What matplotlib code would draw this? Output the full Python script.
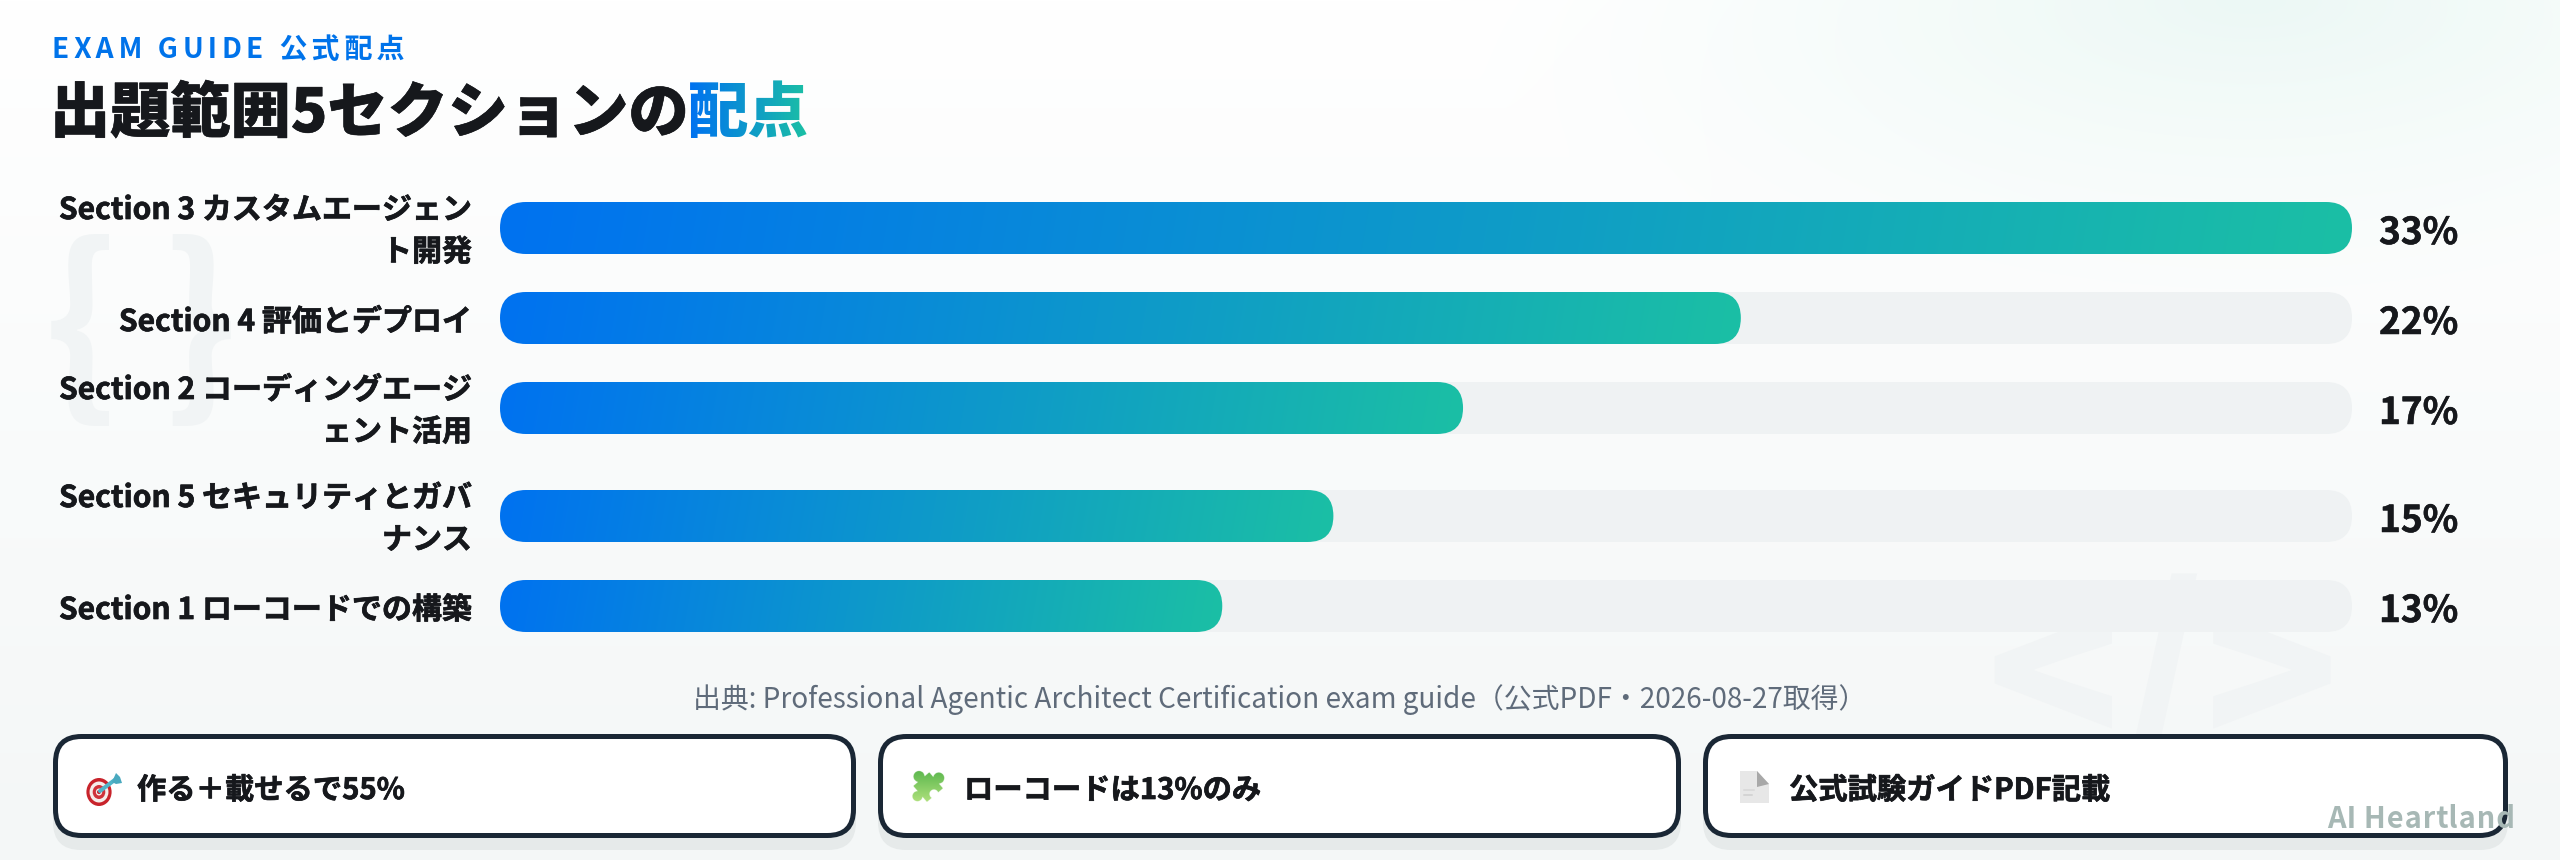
import numpy as np
import matplotlib
matplotlib.use("Agg")
import matplotlib.pyplot as plt
import matplotlib.patheffects as pe
from matplotlib.patches import FancyBboxPatch, Circle, Ellipse, Polygon
from matplotlib.colors import to_rgb
from matplotlib.font_manager import FontProperties

# ---------- data ----------
section_labels = ["Section 3 カスタムエージェン\nト開発", "Section 4 評価とデプロイ",
                  "Section 2 コーディングエージ\nェント活用", "Section 5 セキュリティとガバ\nナンス",
                  "Section 1 ローコードでの構築"]
section_values = [33, 22, 17, 15, 13]
bar_fill_percent = [100, 67, 52, 45, 39]
eyebrow_text = "EXAM GUIDE 公式配点"
title_dark = "出題範囲5セクションの"
title_accent = "配点"
source_text = "出典: Professional Agentic Architect Certification exam guide（公式PDF・2026-08-27取得）"
card_texts = ["作る＋載せるで55%", "ローコードは13%のみ", "公式試験ガイドPDF記載"]
watermark_text = "AI Heartland"

W, H = 2560, 860
FONT = ["Noto Sans CJK JP", "DejaVu Sans"]
plt.rcParams["font.family"] = FONT
px = 72 / 100  # font px -> pt at dpi 100
BLUE, TEAL = np.array(to_rgb("#0072F0")), np.array(to_rgb("#1BBFA5"))
INK = "#16181c"

fig = plt.figure(figsize=(W / 100, H / 100), dpi=100)


def pixel_axes(zorder):
    a = fig.add_axes([0, 0, 1, 1], zorder=zorder)
    a.set_xlim(0, W)
    a.set_ylim(H, 0)
    a.axis("off")
    return a


def thick(t, lw=0.7, color=INK):
    t.set_path_effects([pe.withStroke(linewidth=lw * px, foreground=color)])
    return t


# ---------- background ----------
bg = pixel_axes(0)
yy, xx = np.mgrid[0:H:2, 0:W:2]
base = np.ones((*yy.shape, 3))
v = (yy / H)[..., None]
base = base * (1 - v) + np.array(to_rgb("#F4F7F7")) * v
d = np.sqrt(((xx - 2250) / 800.0) ** 2 + (yy / 300.0) ** 2)
a = np.clip(1 - d, 0, 1)[..., None] ** 1.2
base = base * (1 - a) + np.array(to_rgb("#ECF8F5")) * a
bg.imshow(base, extent=(0, W, H, 0), aspect="auto", zorder=0, interpolation="bilinear")
bg.set_xlim(0, W)
bg.set_ylim(H, 0)
ghost = "#F1F4F5"
bg.text(141, 335, "{ }", fontsize=197 * px, fontweight="bold", color=ghost, ha="center", va="center", zorder=1)
bg.text(2162, 688, "</>", fontsize=221 * px, fontweight="black", color=ghost, ha="center", va="center", zorder=1)

# ---------- bars ----------
bar_h, row_gap = 52, 20
row_heights = [88 if "\n" in s else bar_h for s in section_labels]
centers, cur = [], 184
for rh in row_heights:
    centers.append(cur + rh / 2)
    cur += rh + row_gap

ax = fig.add_axes([500 / W, 0, 1852 / W, 1], zorder=1)
ax.set_xlim(0, 100)
ax.set_ylim(H, 0)
ax.axis("off")
px_per_unit = 1852 / 100
rad = bar_h / 2
r_x = rad / px_per_unit


def pill(value, yc, **kw):
    return FancyBboxPatch((0, yc - bar_h / 2), value, bar_h,
                          boxstyle=f"round,pad=0,rounding_size={r_x}",
                          mutation_aspect=px_per_unit, linewidth=0, **kw)


for yc, val in zip(centers, bar_fill_percent):
    ax.add_patch(pill(100, yc, facecolor="#EFF2F3", zorder=1))
    clip = pill(val, yc, facecolor="none", zorder=2)
    ax.add_patch(clip)
    xs = np.linspace(0, 1, 400)[None, :]
    ys = np.linspace(-1, 1, 26)[:, None]
    width_px = val * px_per_unit
    t = np.clip(xs + ys * 26 * 0.17 / width_px, 0, 1)[..., None]
    im = ax.imshow(BLUE * (1 - t) + TEAL * t, extent=(0, val, yc + bar_h / 2, yc - bar_h / 2),
                   aspect="auto", zorder=2, interpolation="bilinear")
    im.set_clip_path(clip)
ax.set_xlim(0, 100)
ax.set_ylim(H, 0)

# ---------- overlay ----------
ov = pixel_axes(2)
renderer = fig.canvas.get_renderer()


def spaced(text, size_px, weight, gap):
    """agg filter giving one text object CSS-like letter spacing."""
    fp = FontProperties(family=FONT, size=size_px * px, weight=weight)
    cuts = [renderer.get_text_width_height_descent(text[:i], fp, False)[0] for i in range(1, len(text))]

    def f(img, dpi):
        n = len(cuts)
        ink = img[..., 3].sum(axis=0)
        out = np.zeros((img.shape[0], img.shape[1] + int(gap * n) + 2, 4))
        edges = [0]
        for c in cuts:
            c = int(round(c))
            lo, hi = max(c - 4, 1), min(c + 3, img.shape[1] - 1)
            edges.append(lo + int(np.argmin(ink[lo:hi])) if hi > lo else c)
        edges.append(img.shape[1])
        for k in range(n + 1):
            l, r = edges[k], edges[k + 1]
            sh = int(round(k * gap))
            out[:, l + sh:r + sh] = img[:, l:r]
        return out, 0, 0
    return f


def gradient_text(img, dpi):
    out = img.copy()
    t = np.linspace(0, 1, img.shape[1])[None, :, None]
    out[..., :3] = BLUE * (1 - t) + TEAL * t
    return out, 0, 0


# header
e = ov.text(52, 58, eyebrow_text, fontsize=28 * px, fontweight="bold", color="#0073EA", ha="left", va="baseline")
e.set_agg_filter(spaced(eyebrow_text, 28, "bold", 4.6))
thick(ov.text(50, 132, title_dark, fontsize=60.2 * px, fontweight="black", color=INK, ha="left", va="baseline"), 0.6)
g = ov.text(688, 132, title_accent, fontsize=60.5 * px, fontweight="black", color=BLUE, ha="left", va="baseline")
g.set_agg_filter(gradient_text)

# row labels and values
for yc, lab, val in zip(centers, section_labels, section_values):
    thick(ov.text(472, yc + (3 if "\n" in lab else 4), lab, fontsize=30 * px, fontweight="bold", color=INK, ha="right",
                  va="center", multialignment="right", linespacing=1.5))
    thick(ov.text(2379, yc + 16, f"{val}%", fontsize=37 * px, fontweight="bold", color=INK, ha="left", va="baseline"), 0.5)

# source
ov.text(1280, 708, source_text, fontsize=27.9 * px, color="#5F6B7A", ha="center", va="baseline")

# cards
card_boxes = [(53, 856), (878, 1681), (1703, 2508)]
card_text_x = [137, 964, 1789]
for (x0, x1), tx, s in zip(card_boxes, card_text_x, card_texts):
    ov.add_patch(FancyBboxPatch((x0, 746), x1 - x0, 104, boxstyle="round,pad=0,rounding_size=28",
                                facecolor="#E6EAEA", linewidth=0, zorder=1))
    ov.add_patch(FancyBboxPatch((x0 + 2.5, 736.5), x1 - x0 - 5, 99, boxstyle="round,pad=0,rounding_size=26",
                                facecolor="white", edgecolor="#1A2735", linewidth=5 * px, zorder=2))
    thick(ov.text(tx, 799, s, fontsize=29.3 * px, fontweight="bold", color=INK, ha="left", va="baseline", zorder=3))

# emoji: dart
for r, c in zip([14, 10.5, 7, 3.5], ["#C8232B", "#F5EDEA", "#D0323A", "#F5EDEA"]):
    ov.add_patch(Ellipse((99, 792), 2 * r * 0.9, 2 * r, facecolor=c, linewidth=0, zorder=3))
ov.add_patch(Circle((99, 792), 2, facecolor="#C8232B", linewidth=0, zorder=3))
ov.plot([100, 116], [791, 779], color="#4FB4C9", lw=4 * px, solid_capstyle="round", zorder=4)
ov.add_patch(Polygon([[112, 782], [116, 773], [120, 777], [122, 783], [116, 784]], facecolor="#49A9BF", linewidth=0, zorder=4))

# emoji: puzzle piece (masked gradient sprite)
S = 4
size = 48
cx, cy = 928, 787
gy, gx = np.mgrid[0:size * S, 0:size * S] / S - size / 2
uu = (gx * 0.76 - gy * 0.65)
ww = (gx * 0.65 + gy * 0.76)
mask = (np.abs(uu) < 10.5) & (np.abs(ww) < 10.5)
mask |= (uu - 14) ** 2 + ww ** 2 < 5.5 ** 2
mask |= (uu + 14) ** 2 + ww ** 2 < 5.0 ** 2
mask |= uu ** 2 + (ww + 14) ** 2 < 5.5 ** 2
mask &= ~(uu ** 2 + (ww - 9) ** 2 < 4.5 ** 2)
tt = np.clip((gy + 16) / 32, 0, 1)[..., None]
sprite = np.zeros((*mask.shape, 4))
sprite[..., :3] = np.array(to_rgb("#5DB84E")) * (1 - tt) + np.array(to_rgb("#B2E27E")) * tt
sprite[..., 3] = mask
ov.imshow(sprite, extent=(cx - size / 2, cx + size / 2, cy + size / 2, cy - size / 2), aspect="auto",
          zorder=3, interpolation="antialiased")
ov.set_xlim(0, W)
ov.set_ylim(H, 0)

# emoji: page
ov.add_patch(Polygon([[1740, 771], [1757, 771], [1769, 784], [1769, 803], [1740, 803]], facecolor="#E7E7E7", linewidth=0, zorder=3))
ov.add_patch(Polygon([[1757, 771], [1769, 784], [1757, 787]], facecolor="#A8A8A8", linewidth=0, zorder=3))
ov.plot([1744, 1752], [795, 795], color="#CFCFCF", lw=1.5 * px, zorder=4)
ov.plot([1744, 1754], [790, 790], color="#D6D6D6", lw=1.5 * px, zorder=4)

# watermark
wm = ov.text(2327, 828, watermark_text, fontsize=29 * px, fontweight="bold", color="#A7B8B5", ha="left", va="baseline", zorder=5)
wm.set_agg_filter(spaced(watermark_text, 29, "bold", 0.8))

fig.savefig("out.png", dpi=100)
